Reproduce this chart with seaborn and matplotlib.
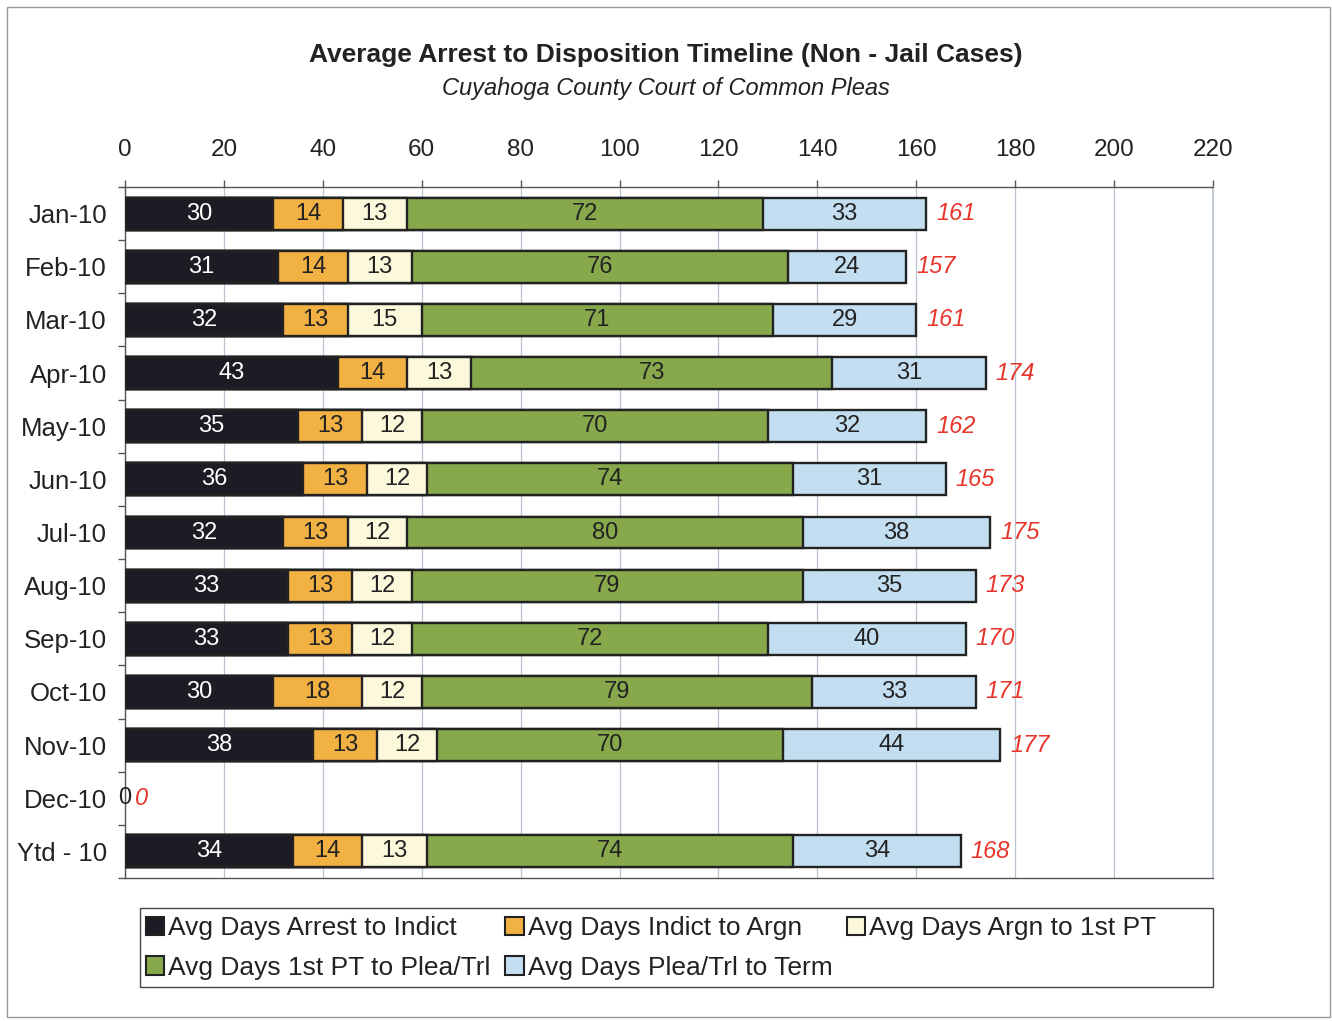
import matplotlib
matplotlib.use("Agg")
import matplotlib.pyplot as plt
from matplotlib.patches import Patch, Rectangle
import seaborn as sns

months = ["Jan-10", "Feb-10", "Mar-10", "Apr-10", "May-10", "Jun-10", "Jul-10",
          "Aug-10", "Sep-10", "Oct-10", "Nov-10", "Dec-10", "Ytd - 10"]
arrest_indict = [30, 31, 32, 43, 35, 36, 32, 33, 33, 30, 38, 0, 34]
indict_argn = [14, 14, 13, 14, 13, 13, 13, 13, 13, 18, 13, 0, 14]
argn_pt = [13, 13, 15, 13, 12, 12, 12, 12, 12, 12, 12, 0, 13]
pt_plea = [72, 76, 71, 73, 70, 74, 80, 79, 72, 79, 70, 0, 74]
plea_term = [33, 24, 29, 31, 32, 31, 38, 35, 40, 33, 44, 0, 34]
totals = [161, 157, 161, 174, 162, 165, 175, 173, 170, 171, 177, 0, 168]

series_names = ["Avg Days Arrest to Indict", "Avg Days Indict to Argn",
                "Avg Days Argn to 1st PT", "Avg Days 1st PT to Plea/Trl",
                "Avg Days Plea/Trl to Term"]
series = [arrest_indict, indict_argn, argn_pt, pt_plea, plea_term]
colors = ["#1c1c24", "#f2b143", "#fbf8dc", "#87a94c", "#c3def0"]

sns.set_theme(style="white")
plt.rcParams["font.family"] = ["Liberation Sans", "DejaVu Sans"]

fig = plt.figure(figsize=(13.32, 10.21), dpi=100)
ax = fig.add_axes([125 / 1332, 1 - 878 / 1021, 1088 / 1332, 691 / 1021])

# cumulative sums, drawn longest first so the shorter ones sit on top
cums = []
run = [0] * len(months)
for s in series:
    run = [a + b for a, b in zip(run, s)]
    cums.append(run)

for j in range(len(series) - 1, -1, -1):
    sns.barplot(x=cums[j], y=months, orient="h", color=colors[j], saturation=1,
                width=0.6, edgecolor="#222222", linewidth=1.7, ax=ax, zorder=3)

# hide the empty Dec bars (they would leave an edge line at 0)
for p in ax.patches:
    if p.get_width() == 0:
        p.set_visible(False)

fs = 17
for j, s in enumerate(series):
    for i, v in enumerate(s):
        if v > 0:
            xc = cums[j][i] - v / 2
            col = "white" if j == 0 else "#222222"
            ax.text(xc, i, str(v), ha="center", va="center", fontsize=fs, color=col, zorder=5)
        elif j == 0:
            ax.text(0, i, "0", ha="center", va="center", fontsize=fs, color="#222222", zorder=5)

for i, t in enumerate(totals):
    ax.text(cums[-1][i] + 2, i, str(t), ha="left", va="center", fontsize=fs,
            color="#e8352b", style="italic", zorder=5)

ax.set_xlim(0, 220)
ax.set_ylim(12.5, -0.5)
ax.set_xticks(range(0, 221, 20))
ax.xaxis.tick_top()
ax.xaxis.set_label_position("top")
ax.tick_params(axis="x", top=True, bottom=False, length=5, width=1, color="#555555",
               labelsize=17.5, pad=14, labelcolor="#222222")
ax.set_yticks(range(len(months)))
ax.set_yticks([i + 0.5 for i in range(-1, len(months))], minor=True)
ax.tick_params(axis="y", which="major", length=0, labelsize=18.5, pad=13, labelcolor="#222222")
ax.tick_params(axis="y", which="minor", left=True, length=5, width=1, color="#555555")
ax.grid(axis="x", color="#b9c2cf", linewidth=0.9, zorder=0)
ax.set_axisbelow(True)
ax.set_xlabel("")
ax.set_ylabel("")
for side in ["top", "bottom", "left"]:
    ax.spines[side].set_color("#555555")
    ax.spines[side].set_linewidth(1)
ax.spines["right"].set_color("#b9c2cf")

fig.text(0.5, 1 - 55 / 1021, "Average Arrest to Disposition Timeline (Non - Jail Cases)",
         ha="center", va="center", fontsize=19, fontweight="bold", color="#222222")
fig.text(0.5, 1 - 88 / 1021, "Cuyahoga County Court of Common Pleas",
         ha="center", va="center", fontsize=17, style="italic", color="#222222")

handles = [Patch(facecolor=c, edgecolor="#222222", linewidth=1.5) for c in colors]
order = [0, 3, 1, 4, 2]
leg = fig.legend([handles[k] for k in order], [series_names[k] for k in order],
                 loc="center left", ncol=3,
                 bbox_to_anchor=(146 / 1332, 1 - 948 / 1021),
                 fontsize=19, frameon=False,
                 handlelength=0.7, handleheight=0.7, handletextpad=0.15,
                 columnspacing=0.55, borderpad=0, labelspacing=0.6, borderaxespad=0)
for t in leg.get_texts():
    t.set_color("#222222")
fig.patches.append(Rectangle((140 / 1332, 1 - 987 / 1021), 1073 / 1332, 79 / 1021,
                             transform=fig.transFigure, fill=False,
                             edgecolor="#444444", linewidth=1))

fig.patches.append(Rectangle((7 / 1332, 4 / 1021), 1323 / 1332, 1010 / 1021,
                             transform=fig.transFigure, fill=False,
                             edgecolor="#9a9a9a", linewidth=1))

fig.savefig("out.png", dpi=100)
